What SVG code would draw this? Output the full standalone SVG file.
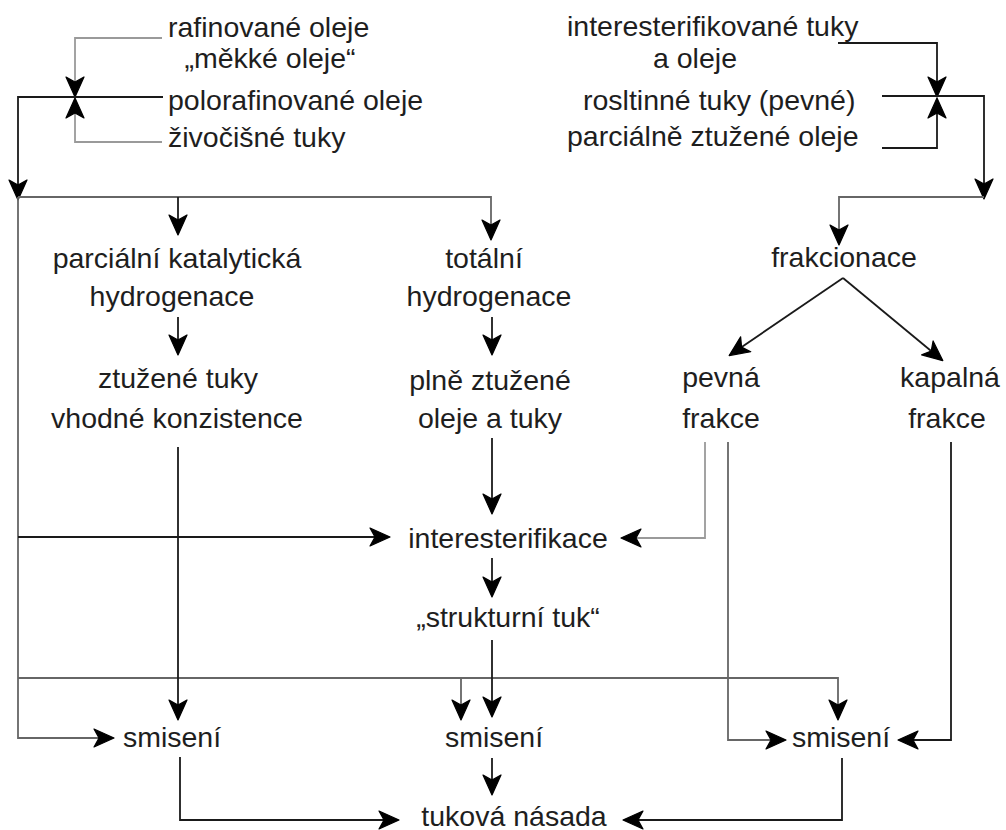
<svg xmlns="http://www.w3.org/2000/svg" width="1006" height="830" viewBox="0 0 1006 830">
<defs>
<style>
text{font-family:"Liberation Sans",Arial,sans-serif;font-size:28.5px;fill:#1e1e1e}
.m{text-anchor:middle}
.c{fill:none;stroke-width:1.8}
.k{stroke:#1a1a1a}
.g{stroke:#666}
.l{stroke:#9a9a9a}
</style>
<marker id="ah" viewBox="-1 -1 22 20" refX="19" refY="9" markerWidth="22" markerHeight="20" markerUnits="userSpaceOnUse" orient="auto">
<path d="M0,0 L20,9 L0,18 L5,9 Z" fill="#000" stroke="#000" stroke-width="1.2" stroke-linejoin="round"/>
</marker>
</defs>
<rect width="1006" height="830" fill="#fff"/>

<g id="connectors">
<path class="c l" d="M162,38 H75 V96" marker-end="url(#ah)"/>
<path class="c l" d="M162,142 H75 V99" marker-end="url(#ah)"/>
<path class="c k" d="M163,97 H18 V199" marker-end="url(#ah)"/>
<path class="c g" d="M18,197 H491 V239" marker-end="url(#ah)"/>
<path class="c k" d="M178,197 V234" marker-end="url(#ah)"/>
<path class="c g" d="M18,197 V738 H113" marker-end="url(#ah)"/>
<path class="c k" d="M18,537 H389" marker-end="url(#ah)"/>
<path class="c g" d="M18,678 H461 V719" marker-end="url(#ah)"/>
<path class="c g" d="M393,678 H838 V719" marker-end="url(#ah)"/>

<path class="c k" d="M838,43 H937 V96" marker-end="url(#ah)"/>
<path class="c k" d="M882,148 H937 V99" marker-end="url(#ah)"/>
<path class="c k" d="M882,96 H984 V198" marker-end="url(#ah)"/>
<path class="c g" d="M984,197 H839 V244" marker-end="url(#ah)"/>

<path class="c k" d="M843,278 L730,355" marker-end="url(#ah)"/>
<path class="c k" d="M843,278 L942,360" marker-end="url(#ah)"/>

<path class="c k" d="M178,317 V354" marker-end="url(#ah)"/>
<path class="c k" d="M492,317 V354" marker-end="url(#ah)"/>
<path class="c k" d="M178,447 V719" marker-end="url(#ah)"/>
<path class="c k" d="M492,438 V513" marker-end="url(#ah)"/>
<path class="c k" d="M492,558 V596" marker-end="url(#ah)"/>
<path class="c k" d="M492,640 V716" marker-end="url(#ah)"/>
<path class="c k" d="M492,758 V794" marker-end="url(#ah)"/>

<path class="c l" d="M705,442 V538 H622" marker-end="url(#ah)"/>
<path class="c g" d="M728,442 V740 H785" marker-end="url(#ah)"/>
<path class="c k" d="M951,442 V740 H899" marker-end="url(#ah)"/>

<path class="c k" d="M180,757 V820 H398" marker-end="url(#ah)"/>
<path class="c k" d="M842,758 V820 H624" marker-end="url(#ah)"/>
</g>

<g id="n-rafinovane"><text x="168" y="37">rafinované oleje</text><text class="m" x="270" y="68">„měkké oleje“</text></g>
<g id="n-polorafinovane"><text x="168" y="110">polorafinované oleje</text></g>
<g id="n-zivocisne"><text x="168" y="147">živočišné tuky</text></g>

<g id="n-interesterifikovane"><text x="567" y="36">interesterifikované tuky</text><text x="653" y="68">a oleje</text></g>
<g id="n-rostlinne"><text x="583" y="110">rosltinné tuky (pevné)</text></g>
<g id="n-parcialne"><text x="567" y="146">parciálně ztužené oleje</text></g>

<g id="n-parcialni-hydro"><text class="m" x="177" y="268">parciální katalytická</text><text class="m" x="172" y="306">hydrogenace</text></g>
<g id="n-ztuzene"><text class="m" x="178" y="388">ztužené tuky</text><text class="m" x="177" y="428">vhodné konzistence</text></g>

<g id="n-totalni"><text class="m" x="484" y="268">totální</text><text class="m" x="489" y="306">hydrogenace</text></g>
<g id="n-plne"><text class="m" x="490" y="390">plně ztužené</text><text class="m" x="490" y="428">oleje a tuky</text></g>

<g id="n-frakcionace"><text class="m" x="844" y="267">frakcionace</text></g>
<g id="n-pevna"><text class="m" x="721" y="387">pevná</text><text class="m" x="721" y="428">frakce</text></g>
<g id="n-kapalna"><text class="m" x="950" y="387">kapalná</text><text class="m" x="947" y="428">frakce</text></g>

<g id="n-interesterifikace"><text class="m" x="508" y="548">interesterifikace</text></g>
<g id="n-strukturni"><text class="m" x="508" y="627">„strukturní tuk“</text></g>

<g id="n-smiseni-1"><text class="m" x="172" y="747">smisení</text></g>
<g id="n-smiseni-2"><text class="m" x="494" y="747">smisení</text></g>
<g id="n-smiseni-3"><text class="m" x="841" y="747">smisení</text></g>

<g id="n-tukova"><text class="m" x="514" y="826">tuková násada</text></g>
</svg>
